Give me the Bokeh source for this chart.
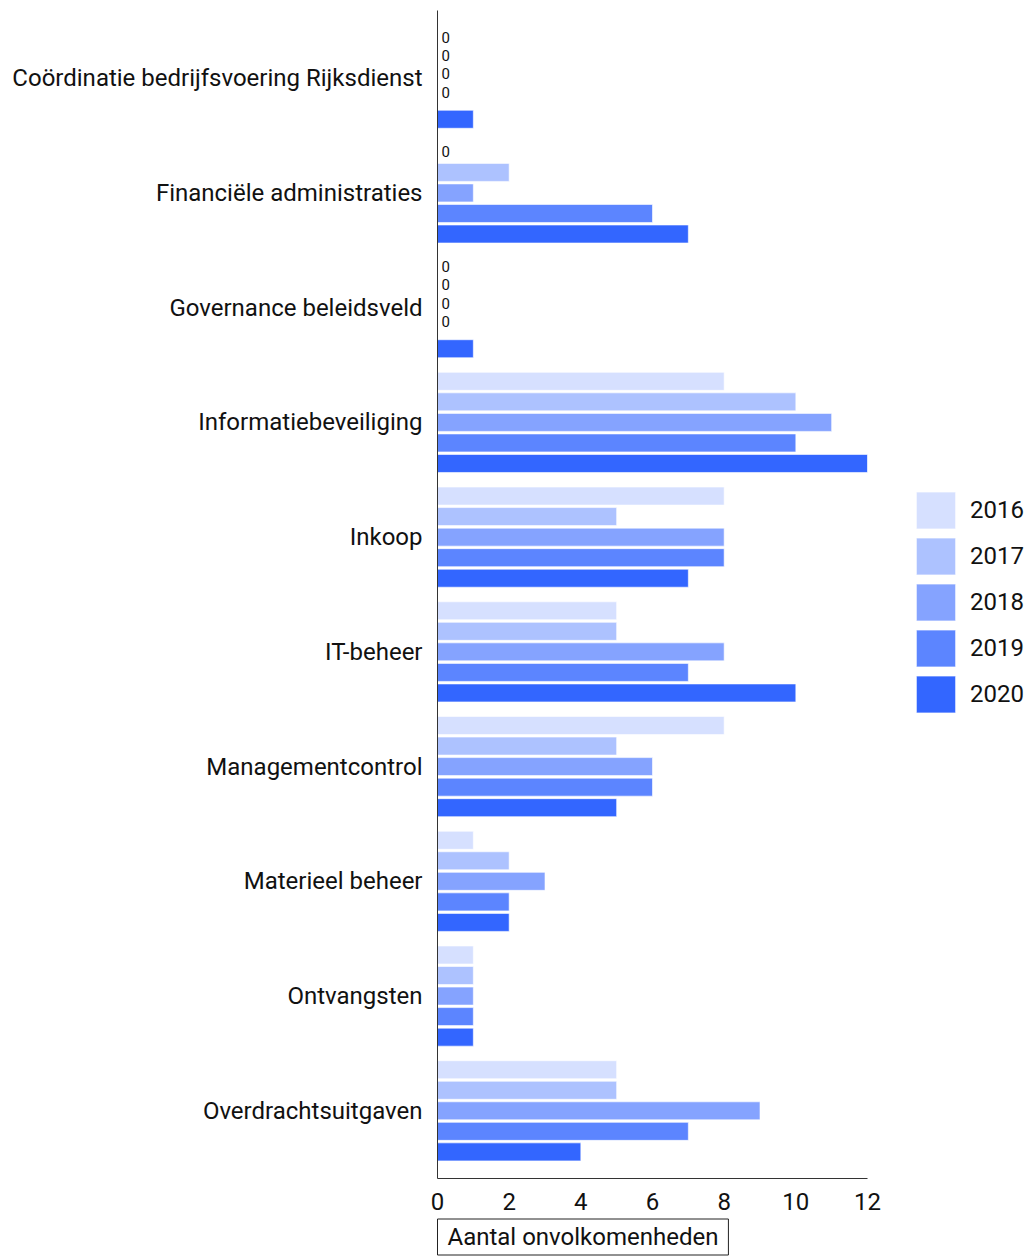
from bokeh.plotting import figure
from bokeh.models import ColumnDataSource, FactorRange, Range1d, Legend, LegendItem, Title
from bokeh.transform import dodge
from bokeh.core.properties import value
from bokeh.embed import file_html
from bokeh.resources import INLINE

categories = [
    "Coördinatie bedrijfsvoering Rijksdienst",
    "Financiële administraties",
    "Governance beleidsveld",
    "Informatiebeveiliging",
    "Inkoop",
    "IT-beheer",
    "Managementcontrol",
    "Materieel beheer",
    "Ontvangsten",
    "Overdrachtsuitgaven",
]
years = ["2016", "2017", "2018", "2019", "2020"]
v2016 = [0, 0, 0, 8, 8, 5, 8, 1, 1, 5]
v2017 = [0, 2, 0, 10, 5, 5, 5, 2, 1, 5]
v2018 = [0, 1, 0, 11, 8, 8, 6, 3, 1, 9]
v2019 = [0, 6, 0, 10, 8, 7, 6, 2, 1, 7]
v2020 = [1, 7, 1, 12, 7, 10, 5, 2, 1, 4]
colors = ["#d6e0ff", "#adc2ff", "#85a3ff", "#5c85ff", "#3366ff"]
x_ticks = [0, 2, 4, 6, 8, 10, 12]
axis_title = "Aantal onvolkomenheden"

series = [v2016, v2017, v2018, v2019, v2020]
FONT = "Roboto"

data = {"cat": categories}
for y, s in zip(years, series):
    data["y" + y] = s
source = ColumnDataSource(data)

p = figure(
    frame_width=430, frame_height=1168,
    y_range=FactorRange(factors=list(reversed(categories)), range_padding=0.018),
    x_range=Range1d(0, 12),
    output_backend="svg", toolbar_location=None,
    min_border_left=437, min_border_top=10, min_border_bottom=81, min_border_right=162,
)
p.outline_line_color = None
p.xgrid.grid_line_color = None
p.ygrid.grid_line_color = None

step = 0.179
bar_h = 0.157
items = []
for i, (y, s) in enumerate(zip(years, series)):
    off = (2 - i) * step
    r = p.hbar(y=dodge("cat", off, range=p.y_range), right="y" + y, left=0,
               height=bar_h, source=source, fill_color=colors[i],
               line_color="white", line_alpha=0.6, line_width=1)
    items.append(LegendItem(label=y, renderers=[r]))
    zc = [c for c, v in zip(categories, s) if v == 0]
    if zc:
        zs = ColumnDataSource({"cat": zc, "v": [0] * len(zc), "t": ["0"] * len(zc)})
        label_off = 2 * step - i * 0.16
        p.text(x="v", y=dodge("cat", label_off, range=p.y_range), text="t", source=zs,
               x_offset=4, text_baseline="middle", text_align="left",
               text_font=value(FONT), text_font_size="15px", text_color="#111111")

legend = Legend(items=items, location=(44, 461), glyph_width=49, glyph_height=46,
                spacing=0, label_standoff=10, label_text_font=FONT,
                label_text_font_size="24px", label_text_color="#111111",
                label_height=20,
                border_line_color=None, background_fill_alpha=0,
                margin=0, padding=0)
p.add_layout(legend, "right")

for ax in (p.xaxis, p.yaxis):
    ax.major_tick_line_color = None
    ax.minor_tick_line_color = None
    ax.axis_line_color = "#333333"
    ax.major_label_text_font = FONT
    ax.major_label_text_font_size = "24px"
    ax.major_label_text_color = "#111111"
p.yaxis.major_label_standoff = 9
p.xaxis.major_label_standoff = 8
p.xaxis.ticker = x_ticks

ttl = Title(text=axis_title, align="left", text_font=FONT, text_font_size="24px",
            text_font_style="normal", text_color="#111111",
            border_line_color="#222222", border_line_width=1,
            background_fill_color="white", padding=(10, 4), standoff=9)
p.add_layout(ttl, "below")

open("out.html", "w").write(file_html(p, INLINE))
